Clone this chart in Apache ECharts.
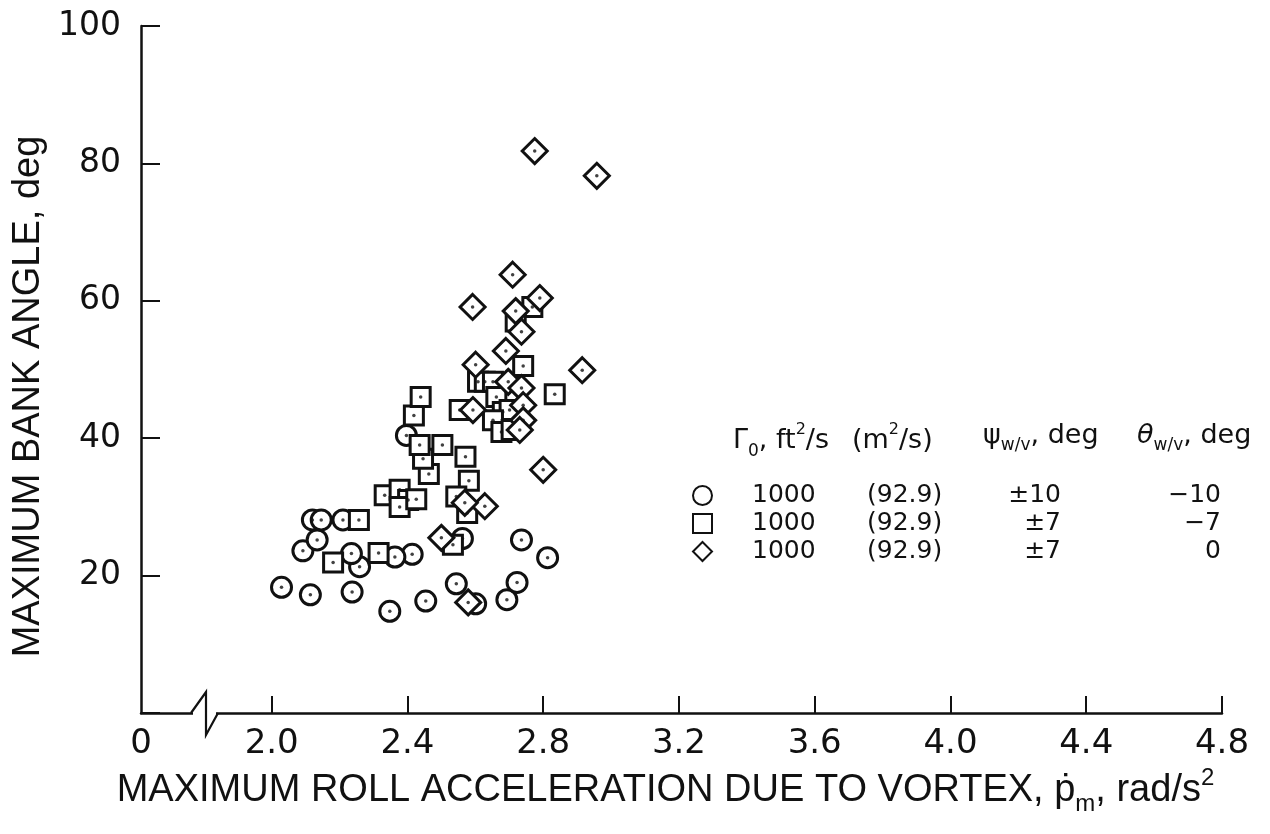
<!DOCTYPE html>
<html>
<head>
<meta charset="utf-8">
<script src="https://cdn.jsdelivr.net/npm/echarts@6/dist/echarts.min.js"></script>
<style>html,body{margin:0;padding:0;background:#fff}#c{width:1270px;height:834px}</style>
</head>
<body>
<div id="c"></div>
<script>
// ---- data ----
var circleData = [
  [2.029,18.3],[2.114,17.2],[2.237,17.6],[2.348,14.8],[2.454,16.3],[2.544,18.8],
  [2.601,15.9],[2.693,16.5],[2.723,19.0],[2.813,22.6],[2.736,25.2],[2.562,25.4],
  [2.414,23.1],[2.363,22.7],[2.259,21.3],[2.235,23.2],[2.092,23.6],[2.134,25.2],
  [2.120,28.1],[2.146,28.1],[2.210,28.1],[2.397,40.4]
];
var squareData = [
  [2.181,21.9],[2.315,23.3],[2.257,28.1],[2.333,31.7],[2.377,32.5],[2.402,31.0],
  [2.377,30.0],[2.426,31.1],[2.463,34.8],[2.446,37.0],[2.436,39.0],[2.503,39.0],
  [2.419,43.3],[2.439,46.0],[2.571,37.3],[2.581,33.8],[2.544,31.5],[2.576,29.1],
  [2.534,24.5],[2.554,44.1],[2.608,48.2],[2.628,48.2],[2.652,48.2],[2.741,50.5],
  [2.834,46.4],[2.662,46.0],[2.681,43.8],[2.701,44.1],[2.652,42.6],[2.677,40.9],
  [2.707,41.2],[2.768,59.1],[2.719,57.0]
];
var diamondData = [
  [2.775,81.8],[2.958,78.2],[2.710,63.8],[2.592,59.1],[2.790,60.4],[2.719,58.5],
  [2.736,55.5],[2.690,52.7],[2.601,50.7],[2.915,49.9],[2.697,48.2],[2.736,47.3],
  [2.593,44.1],[2.741,44.8],[2.741,42.6],[2.731,41.2],[2.800,35.4],[2.628,30.1],
  [2.569,30.6],[2.500,25.5],[2.579,16.1]
];
var xTicks = [2.0, 2.4, 2.8, 3.2, 3.6, 4.0, 4.4, 4.8];
var xOrigin = 1.615;           // broken axis: the origin stands for 0
var xLabelValues = [xOrigin].concat(xTicks);
var seriesNames = ['ψ ±10°, θ −10°', 'ψ ±7°, θ −7°', 'ψ ±7°, θ 0°'];
var legendGamma = ['1000', '1000', '1000'];
var legendSI = ['(92.9)', '(92.9)', '(92.9)'];
var legendPsi = ['±10', '±7', '±7'];
var legendTheta = ['−10', '−7', '0'];

var INK = '#111';
var chart = echarts.init(document.getElementById('c'));

function markerSeries(name, data, symbol, size) {
  return {
    name: name, type: 'scatter', data: data, symbol: symbol, symbolSize: size,
    itemStyle: { color: '#fff', borderColor: INK, borderWidth: 3, opacity: 1 },
    emphasis: { disabled: true }, z: 3
  };
}
function dotSeries(data) {
  return {
    type: 'scatter', data: data, symbol: 'circle', symbolSize: 3.5,
    itemStyle: { color: INK }, silent: true, emphasis: { disabled: true }, z: 3
  };
}

var subStyle = { fontFamily: 'DejaVu Sans', fontSize: 17, color: INK, verticalAlign: 'bottom', lineHeight: 17 };
var supStyle = { fontFamily: 'DejaVu Sans', fontSize: 16, color: INK, verticalAlign: 'top', lineHeight: 16 };
var mainStyle = { fontFamily: 'DejaVu Sans', fontSize: 27, color: INK, lineHeight: 38 };

function headerText(x, txt) {
  return {
    type: 'text', left: x, top: 422, z: 10,
    style: {
      text: txt, fill: INK,
      rich: { t: mainStyle, s: subStyle, p: supStyle,
              i: Object.assign({}, mainStyle, { fontStyle: 'italic' }) }
    }
  };
}

var option = {
  animation: false,
  backgroundColor: '#fff',
  grid: { left: 141, right: 48, top: 26, bottom: 121, containLabel: false },
  xAxis: {
    type: 'value', min: xOrigin, max: 4.8,
    splitLine: { show: false },
    axisLine: { show: true, lineStyle: { color: INK, width: 2.5 } },
    axisTick: { show: true, inside: true, length: 17, customValues: xTicks, lineStyle: { color: INK, width: 2 } },
    axisLabel: {
      customValues: xLabelValues, margin: 14, color: INK,
      fontFamily: 'DejaVu Sans', fontSize: 34,
      formatter: function (v) { return v < 1.9 ? '0' : v.toFixed(1); }
    },
    name: 'MAXIMUM ROLL ACCELERATION DUE TO VORTEX, {t|ṗ}{s|m}{t|, rad/s}{p|2}',
    nameLocation: 'middle', nameGap: 50,
    nameTextStyle: {
      fontFamily: 'Liberation Sans', fontSize: 38, color: INK, padding: [0, 32, 0, 0], lineHeight: 50,
      rich: {
        t: { fontFamily: 'Liberation Sans', fontSize: 38, color: INK, lineHeight: 50 },
        s: { fontFamily: 'Liberation Sans', fontSize: 24, color: INK, verticalAlign: 'bottom', lineHeight: 22 },
        p: { fontFamily: 'Liberation Sans', fontSize: 24, color: INK, verticalAlign: 'top', lineHeight: 30 }
      }
    }
  },
  yAxis: {
    type: 'value', min: 0, max: 100, interval: 20,
    splitLine: { show: false },
    axisLine: { show: true, lineStyle: { color: INK, width: 2.5 } },
    axisTick: { show: true, inside: true, length: 19, lineStyle: { color: INK, width: 2 } },
    axisLabel: {
      margin: 20, color: INK, fontFamily: 'DejaVu Sans', fontSize: 33,
      formatter: function (v) { return v === 0 ? '' : String(v); }
    },
    name: 'MAXIMUM BANK ANGLE, deg',
    nameLocation: 'middle', nameRotate: 90, nameGap: 93,
    nameTextStyle: { fontFamily: 'Liberation Sans', fontSize: 38, color: INK, padding: [0, 54, 0, 0] }
  },
  legend: {
    show: true, orient: 'vertical', left: 687, top: 478,
    itemWidth: 19, itemHeight: 19, itemGap: 3, selectedMode: false,
    data: seriesNames,
    textStyle: { color: INK, fontFamily: 'DejaVu Sans', fontSize: 25,
      rich: {
        a: { fontFamily: 'DejaVu Sans', fontSize: 25, color: INK, width: 115, padding: [0, 0, 0, 35], lineHeight: 25 },
        b: { fontFamily: 'DejaVu Sans', fontSize: 25, color: INK, width: 126, lineHeight: 25 },
        c: { fontFamily: 'DejaVu Sans', fontSize: 25, color: INK, width: 68, align: 'right', lineHeight: 25 },
        d: { fontFamily: 'DejaVu Sans', fontSize: 25, color: INK, width: 160, align: 'right', lineHeight: 25 }
      }
    },
    formatter: function (name) {
      var i = seriesNames.indexOf(name);
      return '{a|' + legendGamma[i] + '}{b|' + legendSI[i] + '}{c|' + legendPsi[i] + '}{d|' + legendTheta[i] + '}';
    }
  },
  graphic: [
    headerText(733, '{t|Γ}{s|0}{t|, ft}{p|2}{t|/s}'),
    headerText(852, '{t|(m}{p|2}{t|/s)}'),
    headerText(983, '{t|ψ}{s|w/v}{t|, deg}'),
    headerText(1137, '{i|θ}{s|w/v}{t|, deg}'),
    // axis break
    { type: 'rect', shape: { x: 193, y: 707, width: 23, height: 12 }, style: { fill: '#fff' }, z: 20 },
    { type: 'polyline', shape: { points: [[191, 713], [206, 692], [206, 735], [218, 713]] },
      style: { stroke: INK, lineWidth: 2.2, fill: null }, z: 21 }
  ],
  series: [
    markerSeries(seriesNames[0], circleData, 'circle', 20),
    dotSeries(circleData),
    markerSeries(seriesNames[1], squareData, 'rect', 19),
    dotSeries(squareData),
    markerSeries(seriesNames[2], diamondData, 'diamond', 25),
    dotSeries(diamondData)
  ]
};
chart.setOption(option);
</script>
</body>
</html>
